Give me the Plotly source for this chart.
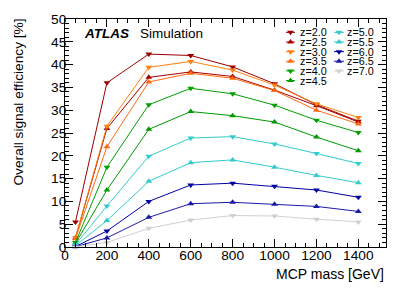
import plotly.graph_objects as go

# ---------------- data ----------------
mass = [50, 200, 400, 600, 800, 1000, 1200, 1400]

labels = ["z=2.0", "z=2.5", "z=3.0", "z=3.5", "z=4.0", "z=4.5",
          "z=5.0", "z=5.5", "z=6.0", "z=6.5", "z=7.0"]

eff_z20 = [5.5, 36.0, 42.3, 42.0, 39.5, 35.8, 31.2, 27.6]
eff_z25 = [2.0, 26.0, 37.2, 38.4, 37.4, 34.4, 31.0, 27.4]
eff_z30 = [2.1, 26.5, 39.4, 40.7, 38.8, 35.5, 31.4, 28.4]
eff_z35 = [1.8, 22.0, 36.2, 38.1, 37.0, 34.3, 30.0, 27.0]
eff_z40 = [1.0, 17.5, 31.2, 34.8, 33.6, 31.1, 27.8, 25.1]
eff_z45 = [0.8, 12.5, 25.8, 29.7, 28.8, 27.4, 24.1, 21.1]
eff_z50 = [0.5, 9.0, 19.9, 23.9, 24.2, 22.6, 20.5, 18.3]
eff_z55 = [0.3, 5.8, 14.4, 18.5, 19.1, 17.5, 15.7, 14.1]
eff_z60 = [0.1, 3.5, 10.0, 13.6, 14.0, 13.3, 12.5, 10.9]
eff_z65 = [0.05, 2.0, 6.5, 9.5, 9.8, 9.4, 8.9, 7.8]
eff_z70 = [0.02, 1.0, 4.1, 5.9, 6.9, 6.8, 6.1, 5.5]

series = [eff_z20, eff_z25, eff_z30, eff_z35, eff_z40, eff_z45,
          eff_z50, eff_z55, eff_z60, eff_z65, eff_z70]

colors = ["#9a0000", "#a80000", "#ff7f0e", "#ff6a10", "#00a000", "#009a00",
          "#33cccc", "#33cccc", "#0000a8", "#1a1aaa", "#d0d0d0"]
symbols = ["triangle-down", "triangle-up"] * 5 + ["triangle-down"]

FONT = "Liberation Sans, Arial, Helvetica, sans-serif"
W, H = 407, 294
L, R, T, B = 65, 21, 15, 47
PW, PH = W - L - R, H - T - B

fig = go.Figure()
for lab, vals, col, sym in zip(labels, series, colors, symbols):
    fig.add_trace(go.Scatter(
        x=mass, y=vals, mode="lines+markers", name=lab,
        line=dict(color=col, width=1),
        marker=dict(symbol=sym, size=6, color=col),
        showlegend=False, cliponaxis=False,
    ))

# pixel -> plot-area (paper) fractions
def fx(px):
    return (px - L) / PW

def fy(py):
    return (H - B - py) / PH

# ---------------- manual legend (two columns) ----------------
row0, drow = 28.6, 9.8
cols = [(286, 295, 298), (334, 344, 345)]
annotations = []
for i, (lab, col, sym) in enumerate(zip(labels, colors, symbols)):
    c = 0 if i < 6 else 1
    r = i if i < 6 else i - 6
    x0, x1, xt = cols[c]
    py = row0 + r * drow
    fig.add_trace(go.Scatter(
        x=[fx(x0), fx(x1)], y=[fy(py), fy(py)], mode="lines",
        line=dict(color=col, width=1), xaxis="x2", yaxis="y2",
        showlegend=False, hoverinfo="skip", cliponaxis=False))
    fig.add_trace(go.Scatter(
        x=[fx((x0 + x1) / 2)], y=[fy(py)], mode="markers",
        marker=dict(symbol=sym, size=6, color=col), xaxis="x2", yaxis="y2",
        showlegend=False, hoverinfo="skip", cliponaxis=False))
    annotations.append(dict(
        x=fx(xt), y=fy(py), xref="paper", yref="paper",
        xanchor="left", yanchor="middle", showarrow=False, text=lab,
        font=dict(family=FONT, size=10.8, color="black")))

# ATLAS label
annotations.append(dict(
    x=fx(82), y=fy(29.5), xref="paper", yref="paper", xanchor="left",
    yanchor="middle", showarrow=False, text="<b><i>ATLAS</i></b>",
    font=dict(family=FONT, size=13.5, color="black")))
annotations.append(dict(
    x=fx(137.5), y=fy(29.5), xref="paper", yref="paper", xanchor="left",
    yanchor="middle", showarrow=False, text="Simulation",
    font=dict(family=FONT, size=13.5, color="black")))

# axis titles (ROOT style: right/top aligned)
annotations.append(dict(
    x=fx(W - R), y=fy(274), xref="paper", yref="paper", xanchor="right",
    yanchor="middle", showarrow=False, text="MCP mass [GeV]",
    font=dict(family=FONT, size=14, color="black")))
annotations.append(dict(
    x=fx(19), y=fy(13), xref="paper", yref="paper", xanchor="center",
    yanchor="top", showarrow=False, text="Overall signal efficiency [%]",
    textangle=-90, font=dict(family=FONT, size=13.7, color="black")))

axis_common = dict(
    showline=True, linecolor="black", linewidth=1, mirror="ticks",
    ticks="inside", tickcolor="black", tickwidth=1, ticklen=8,
    showgrid=False, zeroline=False,
    tickfont=dict(family=FONT, size=13.7, color="black"),
)

fig.update_layout(
    width=W, height=H,
    margin=dict(l=L, r=R, t=T, b=B, pad=0),
    paper_bgcolor="white", plot_bgcolor="white",
    xaxis=dict(range=[0, 1532], tick0=0, dtick=200, ticklabelstandoff=-4,
               minor=dict(ticks="inside", dtick=50, ticklen=4,
                          tickcolor="black", showgrid=False),
               **axis_common),
    yaxis=dict(range=[0, 50], tick0=0, dtick=5, ticklabelstandoff=-5,
               minor=dict(ticks="inside", dtick=1, ticklen=4,
                          tickcolor="black", showgrid=False),
               **axis_common),
    xaxis2=dict(overlaying="x", range=[0, 1], visible=False),
    yaxis2=dict(overlaying="y", range=[0, 1], visible=False),
    annotations=annotations,
    showlegend=False,
)

fig.write_html("out.html", config={"displayModeBar": False},
               post_script="document.body.style.margin='0';document.body.style.overflow='hidden';")
